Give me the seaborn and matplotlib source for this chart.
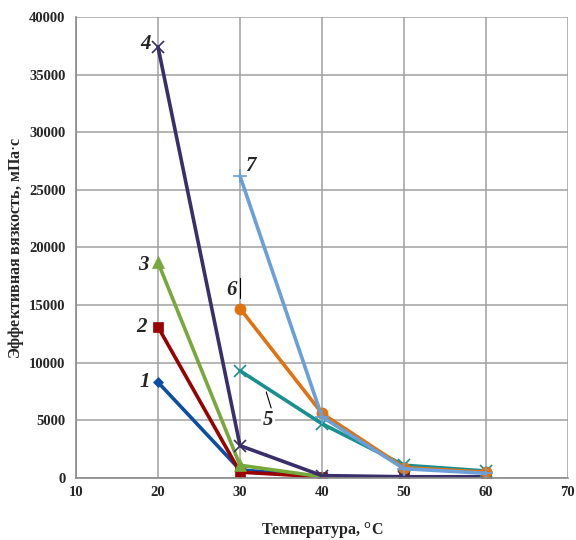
import matplotlib
matplotlib.use("Agg")
import matplotlib.pyplot as plt
import numpy as np
import pandas as pd
import seaborn as sns

sns.set_style("white")
plt.rcParams['font.family'] = ['Liberation Serif', 'DejaVu Serif']

temps_a = [20, 30, 40, 50, 60]
temps_b = [30, 40, 50, 60]

s1 = [8300, 700, 100, 50, 50]
s2 = [13100, 500, 100, 50, 50]
s3 = [18700, 1100, 100, 50, 50]
s4 = [37400, 2800, 200, 100, 100]
s5 = [9300, 4700, 1100, 600]
s6 = [14700, 5600, 900, 500]
s7 = [26200, 5300, 800, 400]

names = ["1", "2", "3", "4", "5", "6", "7"]
colors = ["#0b4ea6", "#990000", "#77a83a", "#3b2f6b", "#17908f", "#e0720f", "#6a9fd8"]
markers = ["D", "s", "^", "x", "x", "o", "+"]
msizes = [5, 7, 8, 9, 9, 8, 10]

series = [(temps_a, s1), (temps_a, s2), (temps_a, s3), (temps_a, s4),
          (temps_b, s5), (temps_b, s6), (temps_b, s7)]

rows = []
for name, (xs, ys) in zip(names, series):
    for x, y in zip(xs, ys):
        rows.append({"series": name, "temp": x, "visc": y})
df = pd.DataFrame(rows)

fig = plt.figure(figsize=(5.76, 5.4), dpi=100)
ax = fig.add_axes([0.132, 0.115, 0.854, 0.8535])

for name, color, mk, ms in zip(names, colors, markers, msizes):
    sub = df[df["series"] == name]
    sns.lineplot(data=sub, x="temp", y="visc", ax=ax, color=color, lw=2.6,
                 marker=mk, markersize=ms, markeredgecolor=color,
                 markeredgewidth=1.2 if mk in ("x", "+") else 0.5, legend=False)

ax.set_xlim(10, 70)
ax.set_ylim(0, 40000)
ax.set_xticks(np.arange(10, 71, 10))
ax.set_yticks(np.arange(0, 40001, 5000))
ax.grid(True, color="#a0a0a0", lw=1.1)
ax.set_axisbelow(True)
for side in ["top", "right"]:
    ax.spines[side].set_visible(False)
for side in ["left", "bottom"]:
    ax.spines[side].set_color("#8a8a8a")
    ax.spines[side].set_linewidth(1.2)
ax.tick_params(axis="both", length=4, color="#8a8a8a", labelsize=10.5)
ax.tick_params(axis="x", pad=2)
for lbl in ax.get_xticklabels() + ax.get_yticklabels():
    lbl.set_fontweight("bold")

ax.set_xlabel("Температура, $^{\\mathrm{o}}$C", fontsize=11.5, fontweight="bold")
ax.set_ylabel("Эффективная вязкость, мПа$\\cdot$с", fontsize=11.5, fontweight="bold")
ax.xaxis.set_label_coords(0.5, -0.092)
ax.yaxis.set_label_coords(-0.102, 0.5)

lab_kw = dict(fontsize=15, fontweight="bold", fontstyle="italic", ha="center", va="center")
ax.text(18.4, 8300, "1", **lab_kw)
ax.text(18.0, 13100, "2", **lab_kw)
ax.text(18.2, 18500, "3", **lab_kw)
ax.text(18.5, 37700, "4", **lab_kw)
ax.text(33.4, 5000, "5", bbox=dict(facecolor="white", edgecolor="none", pad=1), **lab_kw)
ax.text(29.0, 16300, "6", **lab_kw)
ax.text(31.3, 27100, "7", **lab_kw)

ax.plot([33.8, 33.2], [6070, 7460], color="black", lw=0.8)
ax.plot([30, 30], [15600, 17350], color="black", lw=0.8)

fig.savefig("out.png", dpi=100)
